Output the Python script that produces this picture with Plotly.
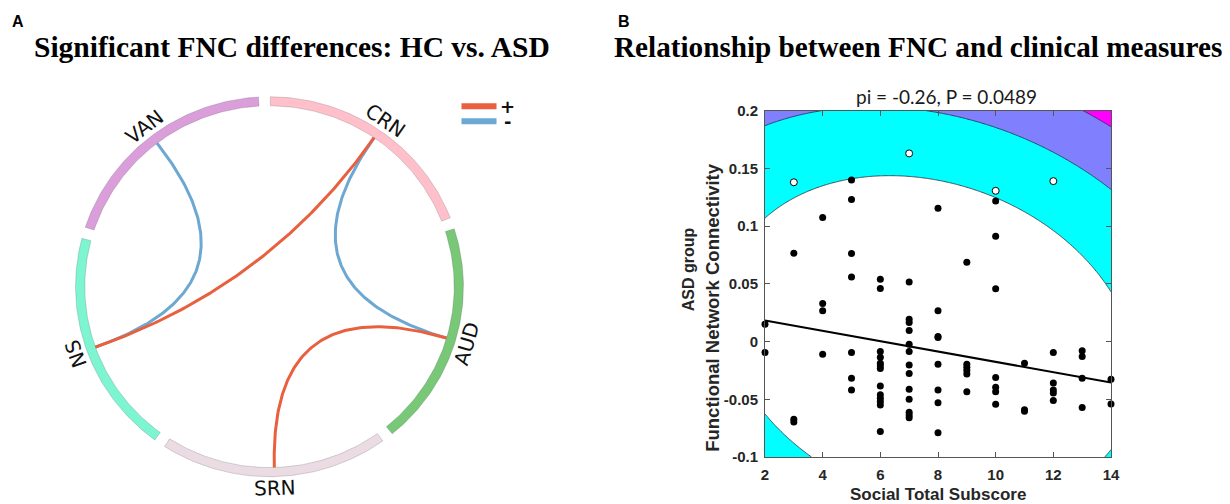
import numpy as np
import plotly.graph_objects as go

W, H = 1230, 504
OFF = 8                      # page body margin of the html page
FW, FH = W - OFF, H - OFF    # figure size so that the page fits the window

# ---------------- Panel A data ----------------
networks = ["CRN", "AUD", "SRN", "NS", "VAN"]          # clockwise from top
network_colors = ["#FFC0CB", "#78C878", "#EADCE2", "#7EF5D1", "#DA9EDA"]
conn_from = ["VAN", "NS", "CRN", "AUD"]
conn_to = ["NS", "CRN", "AUD", "SRN"]
conn_sign = ["-", "+", "-", "+"]
legend_signs = ["+", "-"]
sign_colors = {"+": "#E8603E", "-": "#6CA8D2"}

# ---------------- Panel B data ----------------
social_filled = [2, 2,
                 3, 3, 3,
                 4, 4, 4, 4,
                 5, 5, 5, 5, 5, 5, 5,
                 6, 6, 6, 6, 6, 6, 6, 6, 6, 6, 6, 6, 6,
                 7, 7, 7, 7, 7, 7, 7, 7, 7, 7, 7, 7, 7,
                 8, 8, 8, 8, 8, 8, 8, 8,
                 9, 9, 9, 9, 9, 9,
                 10, 10, 10, 10, 10, 10, 10,
                 11, 11, 11,
                 12, 12, 12, 12, 12,
                 13, 13, 13, 13,
                 14, 14]
fnc_filled = [0.015, -0.0095,
              0.0766, -0.0673, -0.0697,
              0.1075, 0.033, 0.0266, -0.011,
              0.140, 0.123, 0.0763, 0.056, -0.0095, -0.0318, -0.042,
              0.054, 0.046, -0.0087, -0.0136, -0.0188, -0.021, -0.0234, -0.0384, -0.046, -0.049, -0.052, -0.055, -0.078,
              0.0517, 0.0194, 0.0165, 0.0095, -0.0023, -0.0087, -0.0202, -0.0277, -0.0413, -0.050, -0.0613, -0.0636, -0.066,
              0.1156, 0.0266, 0.0043, 0.0035, -0.0197, -0.042, -0.053, -0.079,
              0.0688, -0.0197, -0.0222, -0.025, -0.028, -0.0434,
              0.1217, 0.0913, 0.0457, -0.0312, -0.0396, -0.0434, -0.0543,
              -0.0188, -0.059, -0.0604,
              -0.0095, -0.036, -0.042, -0.0445, -0.051,
              -0.008, -0.013, -0.0318, -0.0572,
              -0.0327, -0.054]
social_open = [3, 7, 10, 12]
fnc_open = [0.138, 0.163, 0.1306, 0.139]
fit_intercept = 0.02715
fit_slope = -0.004475
x_ticks = [2, 4, 6, 8, 10, 12, 14]
y_ticks = [-0.1, -0.05, 0, 0.05, 0.1, 0.15, 0.2]
y_tick_text = ["-0.1", "-0.05", "0", "0.05", "0.1", "0.15", "0.2"]
stat_text = "pi = -0.26, P = 0.0489"
# background quadratic distance field
field_center_x, field_center_y = 7.73, -0.0005
field_a, field_b, field_c = 4.056, 0.79, 1.0      # in (x, 100*y) units
field_step = 200.0
field_colors = ["#FFFFFF", "#00FFFF", "#8080FF", "#FF00FF"]


def pxx(v):
    return (v - OFF) / FW


def pxy(v):
    return 1 - (v - OFF) / FH


fig = go.Figure()

# ---------------- Panel A: chord diagram ----------------
START, GAP = 91.5, 3.5
SLOT = 360.0 / len(networks)
R_OUT, R_IN = 1.0, 0.952
mids = {}
for k, (name, col) in enumerate(zip(networks, network_colors)):
    a0 = START - SLOT * k - GAP / 2
    a1 = START - SLOT * (k + 1) + GAP / 2
    mid = ((a0 + a1) / 2 + 90) % 360 - 90
    mids[name] = mid
    th = np.radians(np.linspace(a0, a1, 90))
    xs = np.concatenate([R_OUT * np.cos(th), R_IN * np.cos(th[::-1]), [R_OUT * np.cos(th[0])]])
    ys = np.concatenate([R_OUT * np.sin(th), R_IN * np.sin(th[::-1]), [R_OUT * np.sin(th[0])]])
    fig.add_trace(go.Scatter(x=xs, y=ys, mode="lines", fill="toself", fillcolor=col,
                             line=dict(color="rgba(70,70,70,0.35)", width=0.6),
                             hoverinfo="skip", xaxis="x", yaxis="y"))

order = sorted(range(len(conn_from)), key=lambda i: conn_sign[i] == "+")
for i in order:
    a = np.radians(mids[conn_from[i]])
    b = np.radians(mids[conn_to[i]])
    p0 = np.array([R_IN * np.cos(a), R_IN * np.sin(a)])
    p2 = np.array([R_IN * np.cos(b), R_IN * np.sin(b)])
    t = np.linspace(0, 1, 120)[:, None]
    pts = (1 - t) ** 2 * p0 + t ** 2 * p2
    fig.add_trace(go.Scatter(x=pts[:, 0], y=pts[:, 1], mode="lines",
                             line=dict(color=sign_colors[conn_sign[i]], width=3),
                             hoverinfo="skip", xaxis="x", yaxis="y"))


def ann(x, y, text, size, family="Liberation Sans", color="black", angle=0, xref="paper", yref="paper"):
    if xref == "paper":
        x, y = pxx(x), pxy(y)
    return dict(x=x, y=y, xref=xref, yref=yref, text=text, showarrow=False, textangle=angle,
                xanchor="center", yanchor="middle",
                font=dict(family=family, size=size, color=color))


annotations = []
for name in networks:
    m = mids[name]
    rot = m - 90
    if rot < -90:
        rot += 180
    annotations.append(ann(1.06 * np.cos(np.radians(m)), 1.06 * np.sin(np.radians(m)), name, 20,
                           family="DejaVu Sans", color="#111111", angle=-rot, xref="x", yref="y"))

# legend of chord signs
shapes = []
for j, s in enumerate(legend_signs):
    yc = 106.3 + 15.0 * j
    shapes.append(dict(type="rect", xref="paper", yref="paper",
                       x0=pxx(461.5), x1=pxx(496.5), y0=pxy(yc + 3), y1=pxy(yc - 3),
                       fillcolor=sign_colors[s], line=dict(width=0)))
    annotations.append(ann(507, yc, "<b>%s</b>" % s, 18, family="DejaVu Sans", color="#111111"))

# ---------------- Panel B: scatter with background field ----------------
gx = np.linspace(2, 14, 301)
gy = np.linspace(-0.1, 0.2, 301)
GX, GY = np.meshgrid(gx, gy)
dx = GX - field_center_x
dv = 100 * (GY - field_center_y)
Z = (field_a * dx ** 2 + field_b * dx * dv + field_c * dv ** 2) / field_step
fig.add_trace(go.Contour(x=gx, y=gy, z=Z, xaxis="x2", yaxis="y2",
                         contours=dict(start=1, end=3, size=1, coloring="fill"),
                         colorscale=[[0, field_colors[0]], [1 / 3, field_colors[1]],
                                     [2 / 3, field_colors[2]], [1, field_colors[3]]],
                         zmin=0.5, zmax=3.5, showscale=False,
                         line=dict(color="#2a2a3a", width=0.8), hoverinfo="skip"))

fx = np.array([x_ticks[0], x_ticks[-1]])
fig.add_trace(go.Scatter(x=fx, y=fit_intercept + fit_slope * fx, mode="lines",
                         line=dict(color="black", width=2), hoverinfo="skip",
                         xaxis="x2", yaxis="y2"))
fig.add_trace(go.Scatter(x=social_filled, y=fnc_filled, mode="markers",
                         marker=dict(color="black", size=7, line=dict(width=0)),
                         xaxis="x2", yaxis="y2", cliponaxis=False))
fig.add_trace(go.Scatter(x=social_open, y=fnc_open, mode="markers",
                         marker=dict(color="white", size=7, line=dict(color="black", width=1)),
                         xaxis="x2", yaxis="y2", cliponaxis=False))

# titles
annotations += [
    ann(18, 21, "<b>A</b>", 16),
    ann(624, 21, "<b>B</b>", 16),
    ann(291.5, 47, "<b>Significant FNC differences: HC vs. ASD</b>", 29.5, family="Liberation Serif"),
    ann(918, 47, "<b>Relationship between FNC and clinical measures</b>", 29.2, family="Liberation Serif"),
    ann(946, 96, stat_text, 19, family="Lato", color="#1a1a1a"),
    ann(937.5, 494, "<b>Social Total Subscore</b>", 17, color="#262626"),
    ann(688.3, 269, "<b>ASD group</b>", 16, color="#262626", angle=-90),
    ann(712.3, 307.5, "<b>Functional Network Connectivity</b>", 18.5, color="#262626", angle=-90),
]

axis_common = dict(showgrid=False, zeroline=False, ticks="inside", ticklen=5, tickcolor="#555555",
                   showline=True, linecolor="#555555", linewidth=1, mirror="ticks",
                   tickfont=dict(family="Liberation Sans", size=15, color="#262626", weight="bold"),
                   fixedrange=True, automargin=False)

fig.update_layout(
    width=FW, height=FH, margin=dict(l=0, r=0, t=0, b=0, pad=0, autoexpand=False),
    paper_bgcolor="white", plot_bgcolor="white", showlegend=False,
    xaxis=dict(domain=[pxx(36.7), pxx(502.3)], range=[-1.2, 1.2], visible=False,
               fixedrange=True, automargin=False),
    yaxis=dict(domain=[pxy(495.7), pxy(68.2)], range=[-1.1, 1.15], visible=False,
               fixedrange=True, automargin=False),
    xaxis2=dict(domain=[pxx(765), pxx(1111)], range=[2, 14], anchor="y2",
                tickmode="array", tickvals=x_ticks, ticktext=[str(v) for v in x_ticks],
                ticklabelstandoff=4, **axis_common),
    yaxis2=dict(domain=[pxy(457), pxy(110.7)], range=[-0.1, 0.2], anchor="x2",
                tickmode="array", tickvals=y_ticks, ticktext=y_tick_text,
                ticklabelstandoff=3, **axis_common),
    annotations=annotations, shapes=shapes,
)

fig.write_html("out.html")
